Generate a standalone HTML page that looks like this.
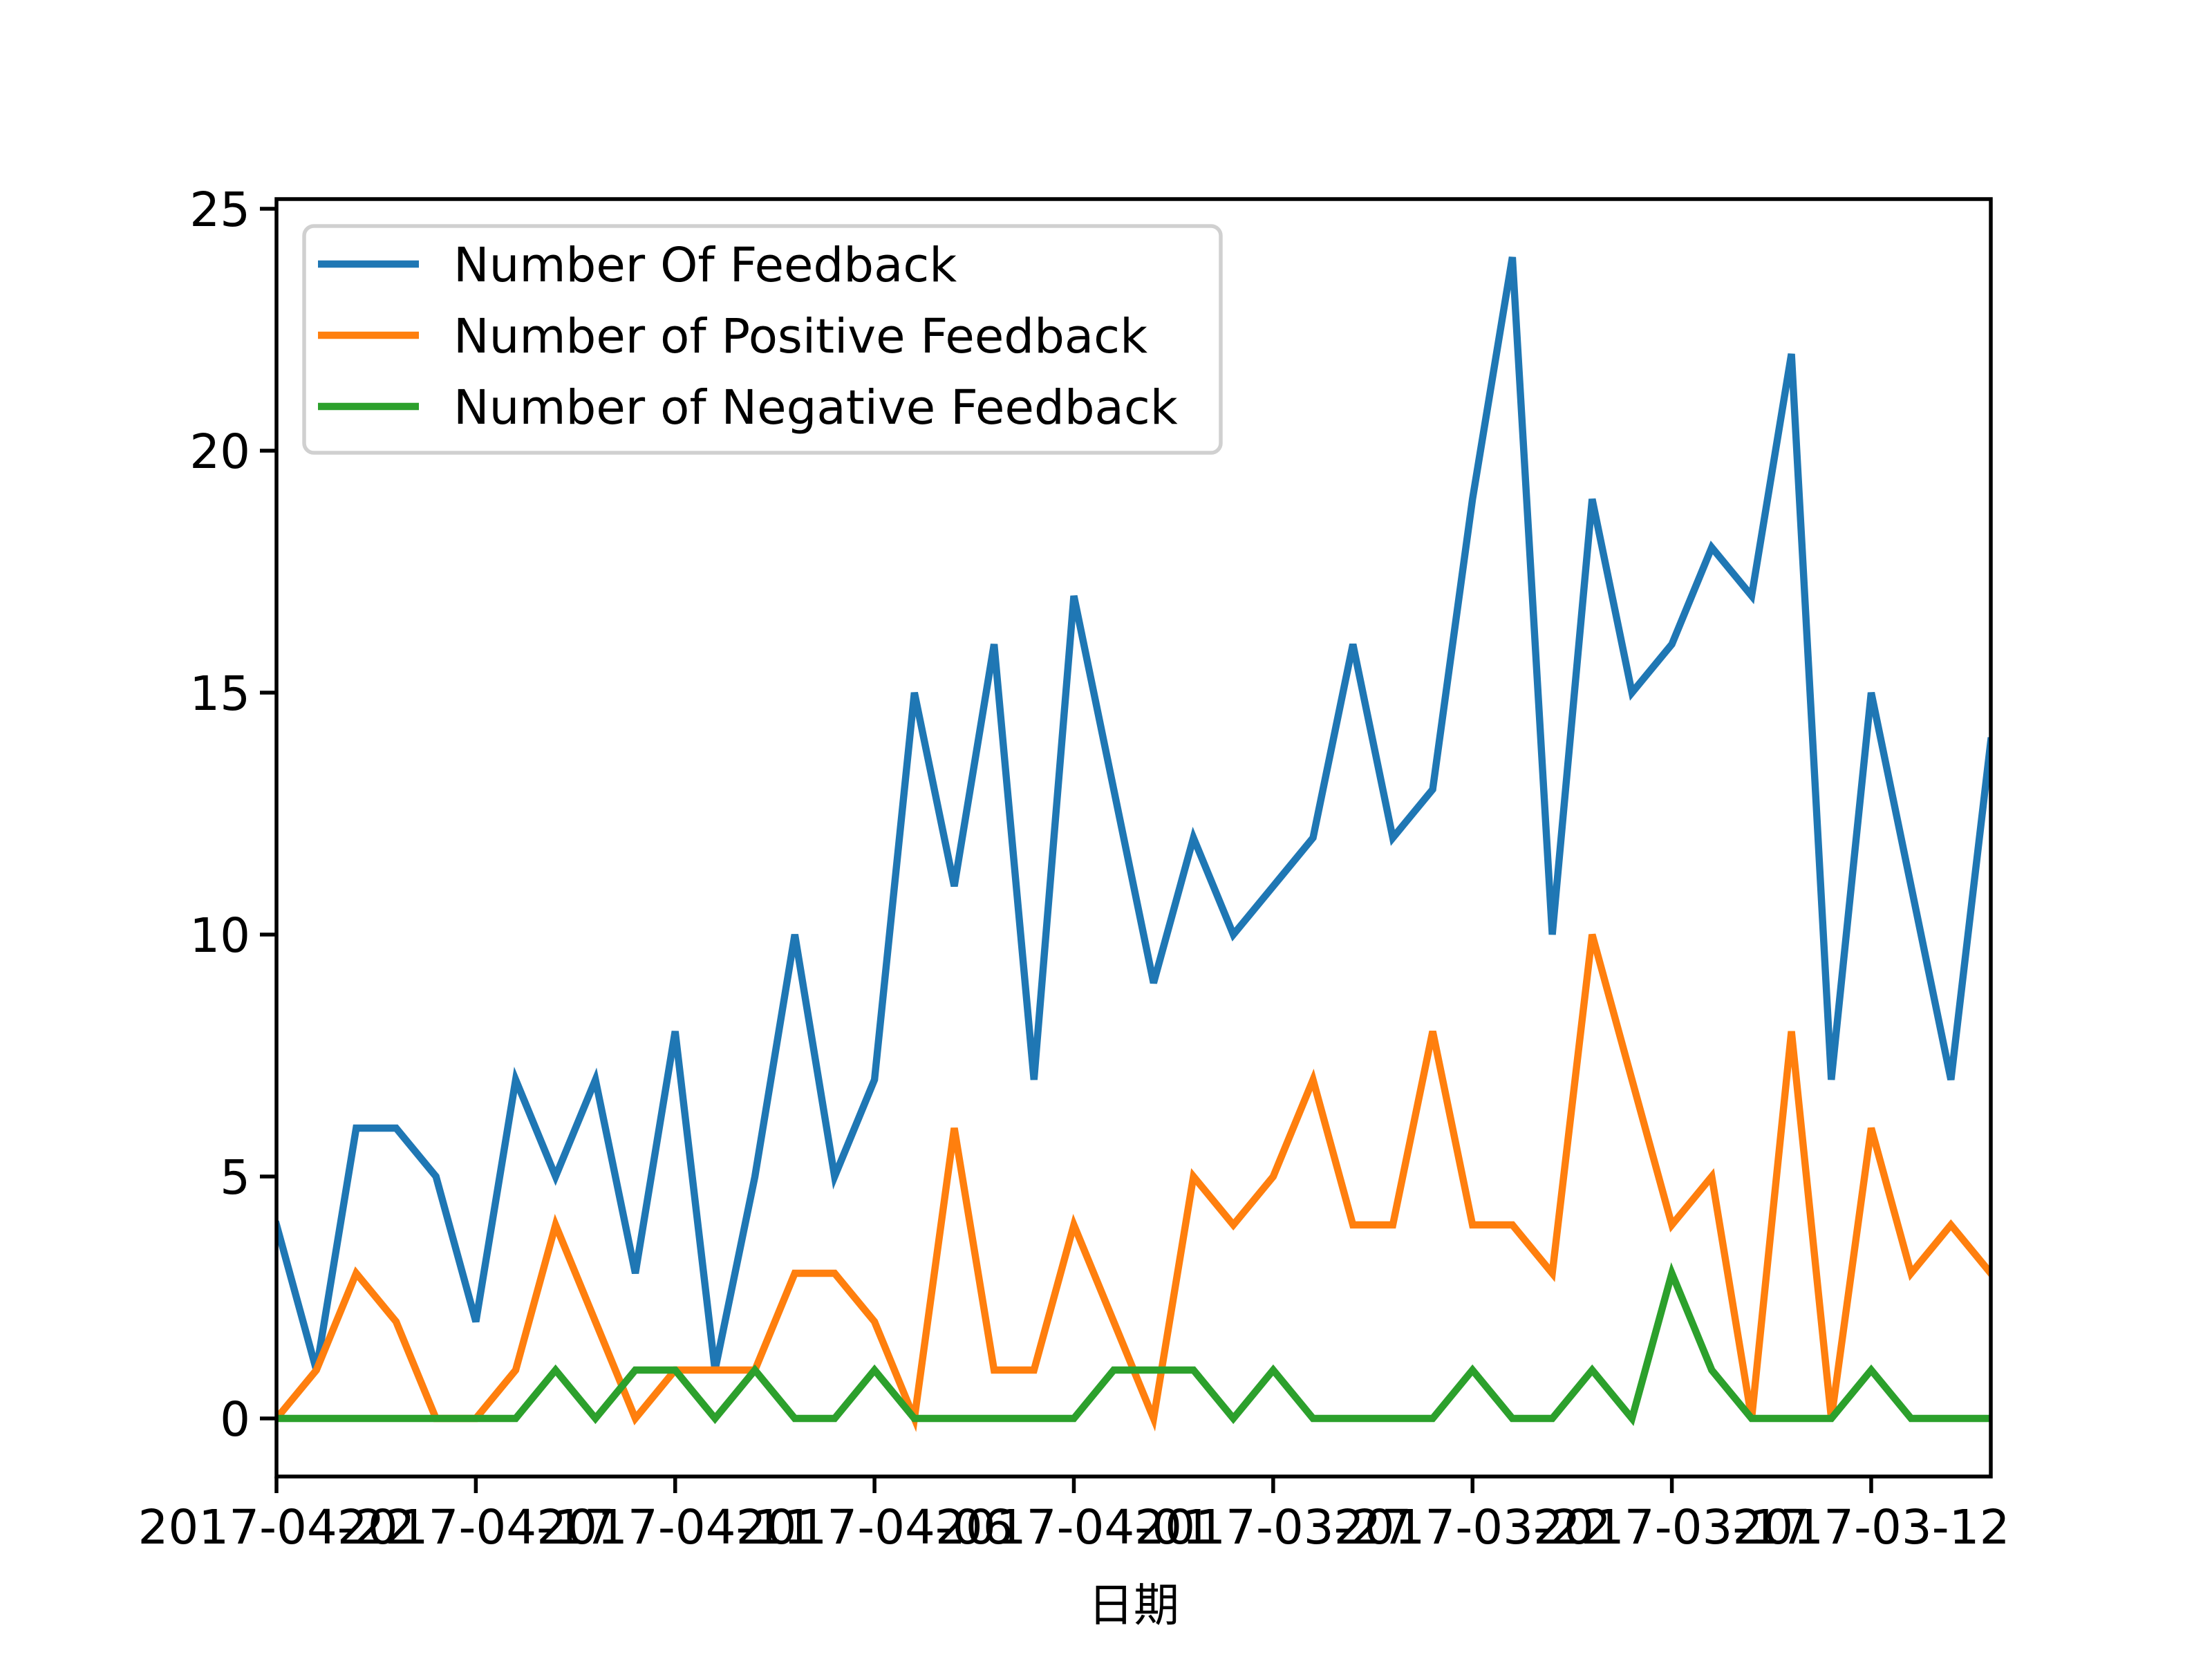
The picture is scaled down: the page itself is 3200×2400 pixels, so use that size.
<!DOCTYPE html>
<html><head><meta charset="utf-8"><style>
html,body{margin:0;padding:0;background:#fff}
svg{display:block;font-family:"DejaVu Sans","Liberation Sans","Noto Sans CJK SC",sans-serif}
</style></head><body>
<svg id="chart" width="3200" height="2400" viewBox="0 0 3200 2400" xmlns="http://www.w3.org/2000/svg">
<rect width="3200" height="2400" fill="#fff"/>
<g id="plot"></g>
<g id="axes"></g>
<g id="legend"></g>
</svg>
<script>
const tickIndices = [0,5,10,15,20,25,30,35,40];
const tickLabels = ["2017-04-22","2017-04-17","2017-04-11","2017-04-06","2017-04-01","2017-03-27","2017-03-22","2017-03-17","2017-03-12"];
const yTicks = [0,5,10,15,20,25];
const totalFeedback = [4,1,6,6,5,2,7,5,7,3, 8,1,5,10,5,7,15,11,16,7, 17,13,9,12,10,11,12,16,12,13, 19,24,10,19,15,16,18,17,22,7, 15,11,7,14];
const positiveFeedback = [0,1,3,2,0,0,1,4,2,0, 1,1,1,3,3,2,0,6,1,1, 4,2,0,5,4,5,7,4,4,8, 4,4,3,10,7,4,5,0,8,0, 6,3,4,3];
const negativeFeedback = [0,0,0,0,0,0,0,1,0,1, 1,0,1,0,0,1,0,0,0,0, 0,1,1,1,0,1,0,0,0,0, 1,0,0,1,0,3,1,0,0,0, 1,0,0,0];
const seriesNames = ["Number Of Feedback","Number of Positive Feedback","Number of Negative Feedback"];
const seriesColors = ["#1f77b4","#ff7f0e","#2ca02c"];

const NS="http://www.w3.org/2000/svg";
const L=400,R=2880,T=288,B=2136;
const n=totalFeedback.length;
const ymin=-1.2, ymax=25.2;
function xs(i){return L+(R-L)*i/(n-1);}
function ys(v){return B-(B-T)*(v-ymin)/(ymax-ymin);}
function mk(tag,attrs,parent){const e=document.createElementNS(NS,tag);for(const k in attrs)e.setAttribute(k,attrs[k]);parent.appendChild(e);return e;}

const plot=document.getElementById('plot');
const allSeries=[totalFeedback,positiveFeedback,negativeFeedback];
const seriesKeys=["total-feedback-line","positive-feedback-line","negative-feedback-line"];
allSeries.forEach((s,k)=>{
  const pts=s.map((v,i)=>xs(i).toFixed(1)+","+ys(v).toFixed(1)).join(" ");
  const pl=mk('polyline',{points:pts,fill:'none',stroke:seriesColors[k],'stroke-width':10.4,'stroke-linejoin':'miter','stroke-linecap':'square'},plot);
  
  
});
mk('rect',{x:0,y:0,width:L,height:2400,fill:'#fff'},plot);
mk('rect',{x:R,y:0,width:3200-R,height:2400,fill:'#fff'},plot);

const axes=document.getElementById('axes');
const frame=mk('rect',{x:L,y:T,width:R-L,height:B-T,fill:'none',stroke:'#000','stroke-width':5.5},axes);


yTicks.forEach(v=>{
  const y=ys(v);
  const t=mk('line',{x1:L-24,x2:L,y1:y,y2:y,stroke:'#000','stroke-width':5.5},axes);
  
  
  const tx=mk('text',{x:L-38,y:y+25,'text-anchor':'end','font-size':69,fill:'#000'},axes);
  tx.textContent=v;
  
  
});
tickIndices.forEach((idx,j)=>{
  const x=xs(idx);
  const t=mk('line',{x1:x,x2:x,y1:B,y2:B+24,stroke:'#000','stroke-width':5.5},axes);
  
  
  const tx=mk('text',{x:x,y:B+97,'text-anchor':'middle','font-size':69,fill:'#000'},axes);
  tx.textContent=tickLabels[j];
  
  
});
const xl=mk('text',{x:(L+R)/2,y:2345,'text-anchor':'middle','font-size':66,fill:'#000'},axes);
xl.textContent='日期';



const lg=document.getElementById('legend');
const box=mk('rect',{x:440,y:327,width:1326,height:328,rx:14,fill:'#fff','fill-opacity':0.8,stroke:'#d0d0d0','stroke-width':5.5},lg);


seriesNames.forEach((name,k)=>{
  const y=382+k*103;
  const ln=mk('line',{x1:460,x2:606,y1:y,y2:y,stroke:seriesColors[k],'stroke-width':10.4},lg);
  
  
  const tx=mk('text',{x:656,y:y+25,'font-size':69,fill:'#000'},lg);
  tx.textContent=name;
  
  
});
</script>
</body></html>
